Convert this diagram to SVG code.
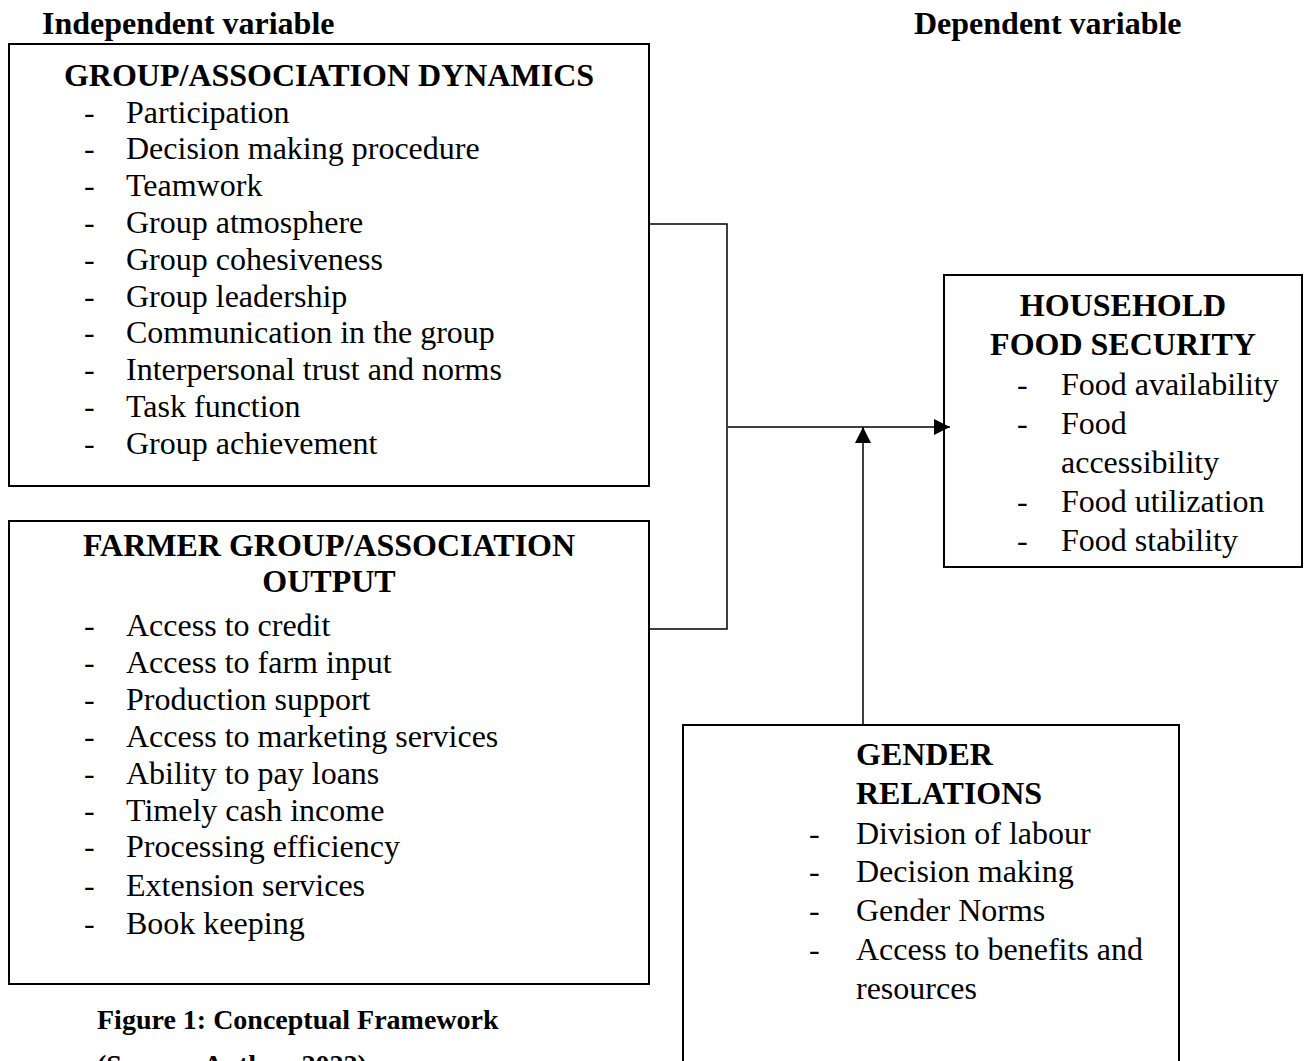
<svg xmlns="http://www.w3.org/2000/svg" width="1307" height="1061" viewBox="0 0 1307 1061">
<style>
.box{fill:none;stroke:#000;stroke-width:2}
.t{font-family:"Liberation Serif","Times New Roman",serif;font-size:32px;fill:#000}
.b{font-weight:bold}
.ln{fill:none;stroke:#000;stroke-width:1.5}
</style>
<defs>
<marker id="ah" markerWidth="16" markerHeight="16" viewBox="0 0 16 16" refX="16" refY="8" orient="auto" markerUnits="userSpaceOnUse">
<path d="M0,0 L16,8 L0,16 Z" fill="#000"/>
</marker>
</defs>
<rect width="1307" height="1061" fill="#fff"/>
<text class="t b" x="42" y="34">Independent variable</text>
<text class="t b" x="914" y="34">Dependent variable</text>

<g id="group-dynamics">
<rect class="box" x="9" y="44" width="640" height="442"/>
<text class="t b" x="329" y="86" text-anchor="middle">GROUP/ASSOCIATION DYNAMICS</text>
<g class="t">
<text x="84" y="123">-</text><text x="126" y="123">Participation</text>
<text x="84" y="159">-</text><text x="126" y="159">Decision making procedure</text>
<text x="84" y="196">-</text><text x="126" y="196">Teamwork</text>
<text x="84" y="233">-</text><text x="126" y="233">Group atmosphere</text>
<text x="84" y="270">-</text><text x="126" y="270">Group cohesiveness</text>
<text x="84" y="307">-</text><text x="126" y="307">Group leadership</text>
<text x="84" y="343">-</text><text x="126" y="343">Communication in the group</text>
<text x="84" y="380">-</text><text x="126" y="380">Interpersonal trust and norms</text>
<text x="84" y="417">-</text><text x="126" y="417">Task function</text>
<text x="84" y="454">-</text><text x="126" y="454">Group achievement</text>
</g>
</g>

<g id="group-output">
<rect class="box" x="9" y="521" width="640" height="463"/>
<text class="t b" x="329" y="556" text-anchor="middle">FARMER GROUP/ASSOCIATION</text>
<text class="t b" x="329" y="592" text-anchor="middle">OUTPUT</text>
<g class="t">
<text x="84" y="636">-</text><text x="126" y="636">Access to credit</text>
<text x="84" y="673">-</text><text x="126" y="673">Access to farm input</text>
<text x="84" y="710">-</text><text x="126" y="710">Production support</text>
<text x="84" y="747">-</text><text x="126" y="747">Access to marketing services</text>
<text x="84" y="784">-</text><text x="126" y="784">Ability to pay loans</text>
<text x="84" y="821">-</text><text x="126" y="821">Timely cash income</text>
<text x="84" y="857">-</text><text x="126" y="857">Processing efficiency</text>
<text x="84" y="896">-</text><text x="126" y="896">Extension services</text>
<text x="84" y="934">-</text><text x="126" y="934">Book keeping</text>
</g>
</g>

<g id="food-security">
<rect class="box" x="944" y="275" width="358" height="292"/>
<text class="t b" x="1123" y="316" text-anchor="middle">HOUSEHOLD</text>
<text class="t b" x="1123" y="355" text-anchor="middle">FOOD SECURITY</text>
<g class="t">
<text x="1017" y="395">-</text><text x="1061" y="395">Food availability</text>
<text x="1017" y="434">-</text><text x="1061" y="434">Food</text>
<text x="1061" y="473">accessibility</text>
<text x="1017" y="512">-</text><text x="1061" y="512">Food utilization</text>
<text x="1017" y="551">-</text><text x="1061" y="551">Food stability</text>
</g>
</g>

<g id="gender-relations">
<rect class="box" x="683" y="725" width="496" height="360"/>
<text class="t b" x="856" y="765">GENDER</text>
<text class="t b" x="856" y="804">RELATIONS</text>
<g class="t">
<text x="809" y="844">-</text><text x="856" y="844">Division of labour</text>
<text x="809" y="882">-</text><text x="856" y="882">Decision making</text>
<text x="809" y="921">-</text><text x="856" y="921">Gender Norms</text>
<text x="809" y="960">-</text><text x="856" y="960">Access to benefits and</text>
<text x="856" y="999">resources</text>
</g>
</g>

<g id="connectors">
<polyline class="ln" points="649,224 727,224 727,629 649,629"/>
<line class="ln" x1="728" y1="427" x2="950" y2="427" marker-end="url(#ah)"/>
<line class="ln" x1="863" y1="725" x2="863" y2="427" marker-end="url(#ah)"/>
</g>

<text class="t b" x="97" y="1029" style="font-size:28px">Figure 1: Conceptual Framework</text>
<text class="t b" x="97" y="1074" style="font-size:28px">(Source: Author, 2022)</text>
</svg>
